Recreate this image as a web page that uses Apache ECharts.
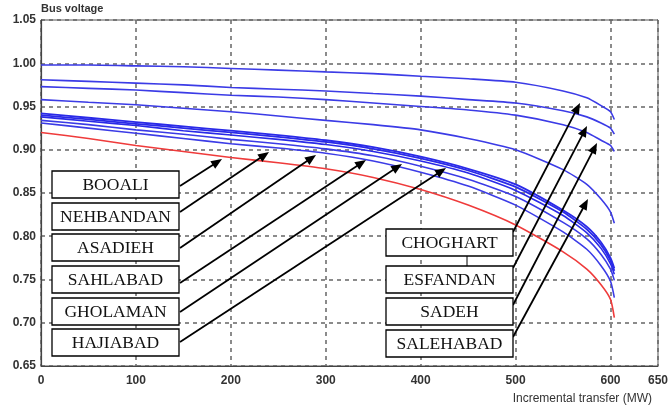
<!DOCTYPE html>
<html>
<head>
<meta charset="utf-8">
<script src="https://cdn.jsdelivr.net/npm/echarts@6/dist/echarts.min.js"></script>
<style>
html,body{margin:0;padding:0;background:#fff;}
#chart{width:671px;height:414px;}
</style>
</head>
<body>
<div id="chart"></div>
<script>
// ---- data ----
const transferMW = [0, 50, 100, 150, 200, 250, 300, 350, 400, 450, 500, 550, 575, 590, 600, 604];
const xTickLabels = [0, 100, 200, 300, 400, 500, 600, 650];
const choghart  = [0.998,0.998,0.997,0.996,0.994,0.992,0.990,0.988,0.985,0.982,0.978,0.968,0.960,0.951,0.944,0.935];
const esfandan  = [0.981,0.979,0.977,0.975,0.972,0.970,0.968,0.965,0.962,0.958,0.954,0.945,0.938,0.931,0.925,0.918];
const sadeh     = [0.973,0.971,0.969,0.966,0.963,0.961,0.958,0.954,0.950,0.946,0.940,0.929,0.920,0.911,0.905,0.898];
const salehabad = [0.958,0.955,0.952,0.948,0.944,0.939,0.934,0.929,0.923,0.913,0.900,0.877,0.860,0.843,0.828,0.815];
const busB1     = [0.942,0.937,0.932,0.927,0.922,0.917,0.911,0.903,0.892,0.878,0.860,0.830,0.811,0.793,0.775,0.763];
const busB2     = [0.940,0.935,0.930,0.925,0.920,0.915,0.909,0.901,0.890,0.876,0.857,0.828,0.808,0.790,0.772,0.760];
const busB3     = [0.938,0.933,0.928,0.922,0.917,0.912,0.906,0.898,0.887,0.873,0.853,0.824,0.804,0.786,0.768,0.756];
const busB4     = [0.934,0.929,0.923,0.918,0.912,0.907,0.901,0.893,0.881,0.866,0.846,0.816,0.797,0.779,0.762,0.749];
const busB5     = [0.931,0.925,0.919,0.913,0.907,0.902,0.896,0.887,0.874,0.858,0.836,0.805,0.785,0.766,0.748,0.729];
const booali    = [0.920,0.913,0.905,0.898,0.891,0.885,0.878,0.868,0.854,0.836,0.813,0.782,0.762,0.744,0.727,0.706];

const leftLabels  = ['BOOALI','NEHBANDAN','ASADIEH','SAHLABAD','GHOLAMAN','HAJIABAD'];
const rightLabels = ['CHOGHART','ESFANDAN','SADEH','SALEHABAD'];

// ---- build ----
function pairs(v){ return transferMW.map((x,i)=>[x, v[i]]); }
const blue = '#3b3be6';
const red = '#ef3b3b';
const seriesDefs = [
  {name:'CHOGHART', data:choghart, color:blue, w:1.6},
  {name:'ESFANDAN', data:esfandan, color:blue, w:1.6},
  {name:'SADEH', data:sadeh, color:blue, w:1.6},
  {name:'SALEHABAD', data:salehabad, color:blue, w:1.6},
  {name:'B5', data:busB5, color:blue, w:1.6},
  {name:'B4', data:busB4, color:blue, w:1.6},
  {name:'B3', data:busB3, color:'#2a2ae8', w:1.6},
  {name:'B2', data:busB2, color:'#2a2ae8', w:1.8},
  {name:'B1', data:busB1, color:'#2a2ae8', w:1.8},
  {name:'BOOALI', data:booali, color:red, w:1.6}
];

const chart = echarts.init(document.getElementById('chart'), null, {renderer:'canvas'});
const axisFont = {fontFamily:'Liberation Sans', fontSize:12, fontWeight:'bold', color:'#333'};

// annotation graphics
const graphics = [];
function box(x, y, w, h, text){
  graphics.push({type:'rect', shape:{x:x, y:y, width:w, height:h}, style:{fill:'#fff', stroke:'#000', lineWidth:1.3}, z:100});
  graphics.push({type:'text', x:x + w/2, y:y + h/2 + 1, style:{text:text, fill:'#111', fontFamily:'Liberation Serif', fontSize:17.5, align:'center', verticalAlign:'middle'}, z:101});
}
function arrow(sx, sy, tx, ty){
  const dx = tx - sx, dy = ty - sy, len = Math.sqrt(dx*dx + dy*dy);
  const ux = dx/len, uy = dy/len, nx = -uy, ny = ux;
  const L = 11, W = 4.5;
  graphics.push({type:'line', shape:{x1:sx, y1:sy, x2:tx - ux*L*0.7, y2:ty - uy*L*0.7}, style:{stroke:'#000', lineWidth:1.8}, z:100});
  graphics.push({type:'polygon', shape:{points:[[tx,ty],[tx-ux*L+nx*W, ty-uy*L+ny*W],[tx-ux*L-nx*W, ty-uy*L-ny*W]]}, style:{fill:'#000'}, z:100});
}
const leftBoxTops = [171, 203, 234, 266, 298, 329];
const leftStarts = [186, 212, 248, 283, 312, 342];
const leftTips = [[222,159],[269,152],[316,155],[366,160],[402,164],[446,168]];
leftLabels.forEach((t,i)=>{
  arrow(180, leftStarts[i], leftTips[i][0], leftTips[i][1]);
  box(52, leftBoxTops[i], 127, 27, t);
});
const rightBoxTops = [229, 266, 298, 330];
const rightStarts = [232, 268, 305, 337];
const rightTips = [[580,103],[587,126],[597,143],[588,199]];
graphics.push({type:'line', shape:{x1:467, y1:256, x2:467, y2:266}, style:{stroke:'#000', lineWidth:1}, z:99});
rightLabels.forEach((t,i)=>{
  arrow(513, rightStarts[i], rightTips[i][0], rightTips[i][1]);
  box(386, rightBoxTops[i], 127, 27, t);
});

chart.setOption({
  animation:false,
  backgroundColor:'#fff',
  grid:{left:41, right:9, top:20, bottom:48, show:true, borderColor:'#555', borderWidth:1},
  xAxis:{
    type:'value', min:0, max:650, interval:100,
    name:'Incremental transfer (MW)', nameLocation:'end', nameGap:-6,
    nameTextStyle:{fontFamily:'Liberation Sans', fontSize:12, color:'#333', align:'right', verticalAlign:'top', padding:[27,0,0,0]},
    axisLine:{show:true, lineStyle:{color:'#444', width:1}},
    axisTick:{show:false},
    axisLabel:Object.assign({margin:9, customValues:xTickLabels, formatter:v=>String(v)}, axisFont),
    splitLine:{show:true, lineStyle:{color:'#666', type:[4,4], width:1.5}}
  },
  yAxis:{
    type:'value', min:0.65, max:1.05, interval:0.05,
    name:'Bus voltage', nameLocation:'end', nameGap:5,
    nameTextStyle:{fontFamily:'Liberation Sans', fontSize:11, fontWeight:'bold', color:'#333', align:'left', verticalAlign:'bottom'},
    axisLine:{show:true, lineStyle:{color:'#444', width:1.2}},
    axisTick:{show:false},
    axisLabel:Object.assign({margin:5, formatter:v=>v.toFixed(2)}, axisFont),
    splitLine:{show:true, lineStyle:{color:'#666', type:[4,4], width:1.5}}
  },
  series:seriesDefs.map(s=>({
    type:'line', name:s.name, data:pairs(s.data), showSymbol:false, smooth:0.2,
    lineStyle:{color:s.color, width:s.w}, itemStyle:{color:s.color}, z:3
  })),
  graphic:graphics
});
</script>
</body>
</html>
